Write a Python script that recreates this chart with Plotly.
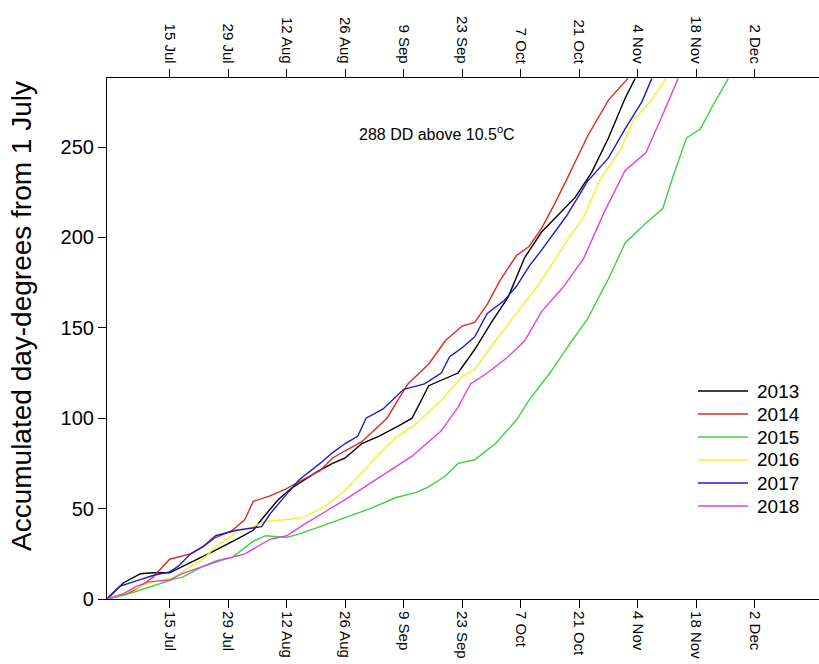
import plotly.graph_objects as go

# x = days since 30 June (1 July = 1)
tick_days = [15, 29, 43, 57, 71, 85, 99, 113, 127, 141, 155]
tick_labels = ["15 Jul", "29 Jul", "12 Aug", "26 Aug", "9 Sep", "23 Sep",
               "7 Oct", "21 Oct", "4 Nov", "18 Nov", "2 Dec"]
y_ticks = [0, 50, 100, 150, 200, 250]

days_2013 = [0, 4, 8, 11, 15, 20, 26, 31, 35, 37, 41, 44, 50, 54, 57, 61, 65, 70, 73, 77, 81, 84, 88, 92, 96, 100, 104, 107, 112, 116, 120, 124, 126.4]
dd_2013 = [0, 9, 14, 14.5, 14.5, 20, 27, 33, 38, 44, 55, 61, 70, 75, 78, 86, 90, 96, 100, 118, 122, 125, 138, 153, 167, 189, 203, 210, 222, 236, 255, 277, 288]

days_2014 = [0, 5, 8, 11, 15, 20, 23, 26, 30, 33, 35, 39, 43, 46, 51, 54, 57, 61, 67, 72, 77, 81, 85, 88, 91, 94, 98, 101, 104, 107, 110, 115, 120, 124.7]
dd_2014 = [0, 3, 7, 12, 22, 25, 29, 34, 38, 44, 54, 57, 61, 65, 71, 78, 82, 87, 100, 119, 130, 143, 151, 153, 163, 176, 190, 195, 205, 218, 232, 256, 276, 288]

days_2015 = [0, 4, 8, 12, 16, 18, 23, 26, 30, 35, 38, 43, 46, 51, 57, 63, 69, 74, 77, 81, 84, 88, 93, 98, 101, 106, 111, 115, 120, 124, 129, 133, 135.5, 138.7, 142, 145, 148.7]
dd_2015 = [0, 2, 5, 8, 11, 12, 18, 21, 23, 32, 35, 34, 36, 40, 45, 50, 56, 59, 62, 68, 75, 77, 86, 99, 110, 125, 142, 155, 177, 197, 208, 216, 234, 255, 260, 273, 288]

days_2016 = [0, 4, 8, 12, 16, 20, 23, 26, 28, 31, 35, 38, 43, 47, 52, 57, 61, 65, 69, 74, 80, 85, 88, 93, 98, 103, 107, 110, 114, 118, 123, 126, 130, 133.8]
dd_2016 = [0, 3, 7, 10, 12, 18, 22, 29, 32, 37, 40, 43, 44, 45, 51, 60, 70, 80, 89, 97, 110, 123, 127, 143, 158, 173, 187, 198, 211, 232, 249, 265, 275, 288]

days_2017 = [0, 3, 7, 11, 15, 17, 20, 23, 26, 31, 37, 39, 43, 46, 51, 54, 57, 60, 62, 66, 71, 76, 80, 82, 85, 88, 91, 95, 98, 101, 104, 110, 115, 120, 124, 128, 130.4]
dd_2017 = [0, 7, 10, 13, 15, 18, 25, 29, 35, 38, 40, 47, 58, 66, 75, 81, 86, 90, 100, 105, 116, 119, 125, 134, 139, 145, 158, 165, 173, 184, 193, 212, 231, 244, 260, 275, 288]

days_2018 = [0, 4, 7, 10, 15, 18, 23, 28, 33, 36, 39, 43, 47, 52, 57, 65, 73, 80, 84, 87, 91, 96, 100, 104, 109, 114, 119, 124, 129, 133, 136.7]
dd_2018 = [0, 3, 7, 9.5, 10.5, 14, 18, 22, 25, 29, 33, 35, 41, 48, 55, 67, 79, 93, 106, 119, 125, 134, 143, 159, 172, 188, 214, 237, 247, 268, 288]

series = [
    ("2013", days_2013, dd_2013, "#000000"),
    ("2014", days_2014, dd_2014, "#dc2a22"),
    ("2015", days_2015, dd_2015, "#3cd23c"),
    ("2016", days_2016, dd_2016, "#f2f22a"),
    ("2017", days_2017, dd_2017, "#1c1cc8"),
    ("2018", days_2018, dd_2018, "#e040e0"),
]

FONT = "Liberation Sans, Arial, sans-serif"
XR = [0, 170.4]
YR = [0, 288.2]

W, H = 819, 664
ML, MR, MT, MB = 107, 0, 78, 65
PW, PH = W - ML - MR, H - MT - MB

def px(x):
    return (x - ML) / PW

def py(y):
    return (H - MB - y) / PH

fig = go.Figure()
for name, xs, ys, col in series:
    fig.add_trace(go.Scatter(x=xs, y=ys, mode="lines", name=name,
                             line=dict(color=col, width=1.4), showlegend=False))

# invisible trace to anchor the top axis
fig.add_trace(go.Scatter(x=XR, y=[None, None], xaxis="x2", mode="lines",
                         showlegend=False, hoverinfo="skip"))

axis_common = dict(
    range=XR, tickvals=tick_days, ticktext=tick_labels, tickangle=90,
    ticks="outside", ticklen=8, tickwidth=1, tickcolor="black",
    showline=True, linecolor="black", linewidth=1.2, showgrid=False,
    zeroline=False, automargin=False,
    tickfont=dict(family=FONT, size=15, color="black"),
)

# legend drawn as line + text entries
shapes = []
annotations = []
for i, (name, xs, ys, col) in enumerate(series):
    yy = py(391 + 23 * i)
    shapes.append(dict(type="line", xref="paper", yref="paper",
                       x0=px(698), x1=px(748), y0=yy, y1=yy,
                       line=dict(color=col, width=1.4)))
    annotations.append(dict(x=px(755), y=yy, xref="paper", yref="paper",
                            text=name, showarrow=False, xanchor="left",
                            yanchor="middle",
                            font=dict(family=FONT, size=19, color="black")))

annotations.append(dict(x=px(437), y=py(121), xref="paper", yref="paper",
                        text="288 DD above 10.5<sup>o</sup>C", showarrow=False,
                        font=dict(family=FONT, size=16, color="black")))

# y-axis title
annotations.append(dict(x=px(21), y=py(316), xref="paper", yref="paper",
                        text="Accumulated day-degrees from 1 July",
                        textangle=-90, showarrow=False,
                        xanchor="center", yanchor="middle",
                        font=dict(family=FONT, size=28, color="black")))

fig.update_layout(
    width=W, height=H,
    margin=dict(l=ML, r=MR, t=MT, b=MB),
    paper_bgcolor="white", plot_bgcolor="white",
    xaxis=dict(**axis_common, side="bottom"),
    xaxis2=dict(**axis_common, side="top", overlaying="x", anchor="y"),
    yaxis=dict(range=YR, tickvals=y_ticks,
               ticks="outside", ticklen=8, tickwidth=1, tickcolor="black",
               showline=True, linecolor="black", linewidth=1.2,
               showgrid=False, zeroline=False, automargin=False,
               tickfont=dict(family=FONT, size=20, color="black")),
    showlegend=False,
    shapes=shapes,
    annotations=annotations,
)

fig.write_html("out.html", config={"displayModeBar": False},
               post_script="document.body.style.margin='0';document.body.style.padding='0';")
